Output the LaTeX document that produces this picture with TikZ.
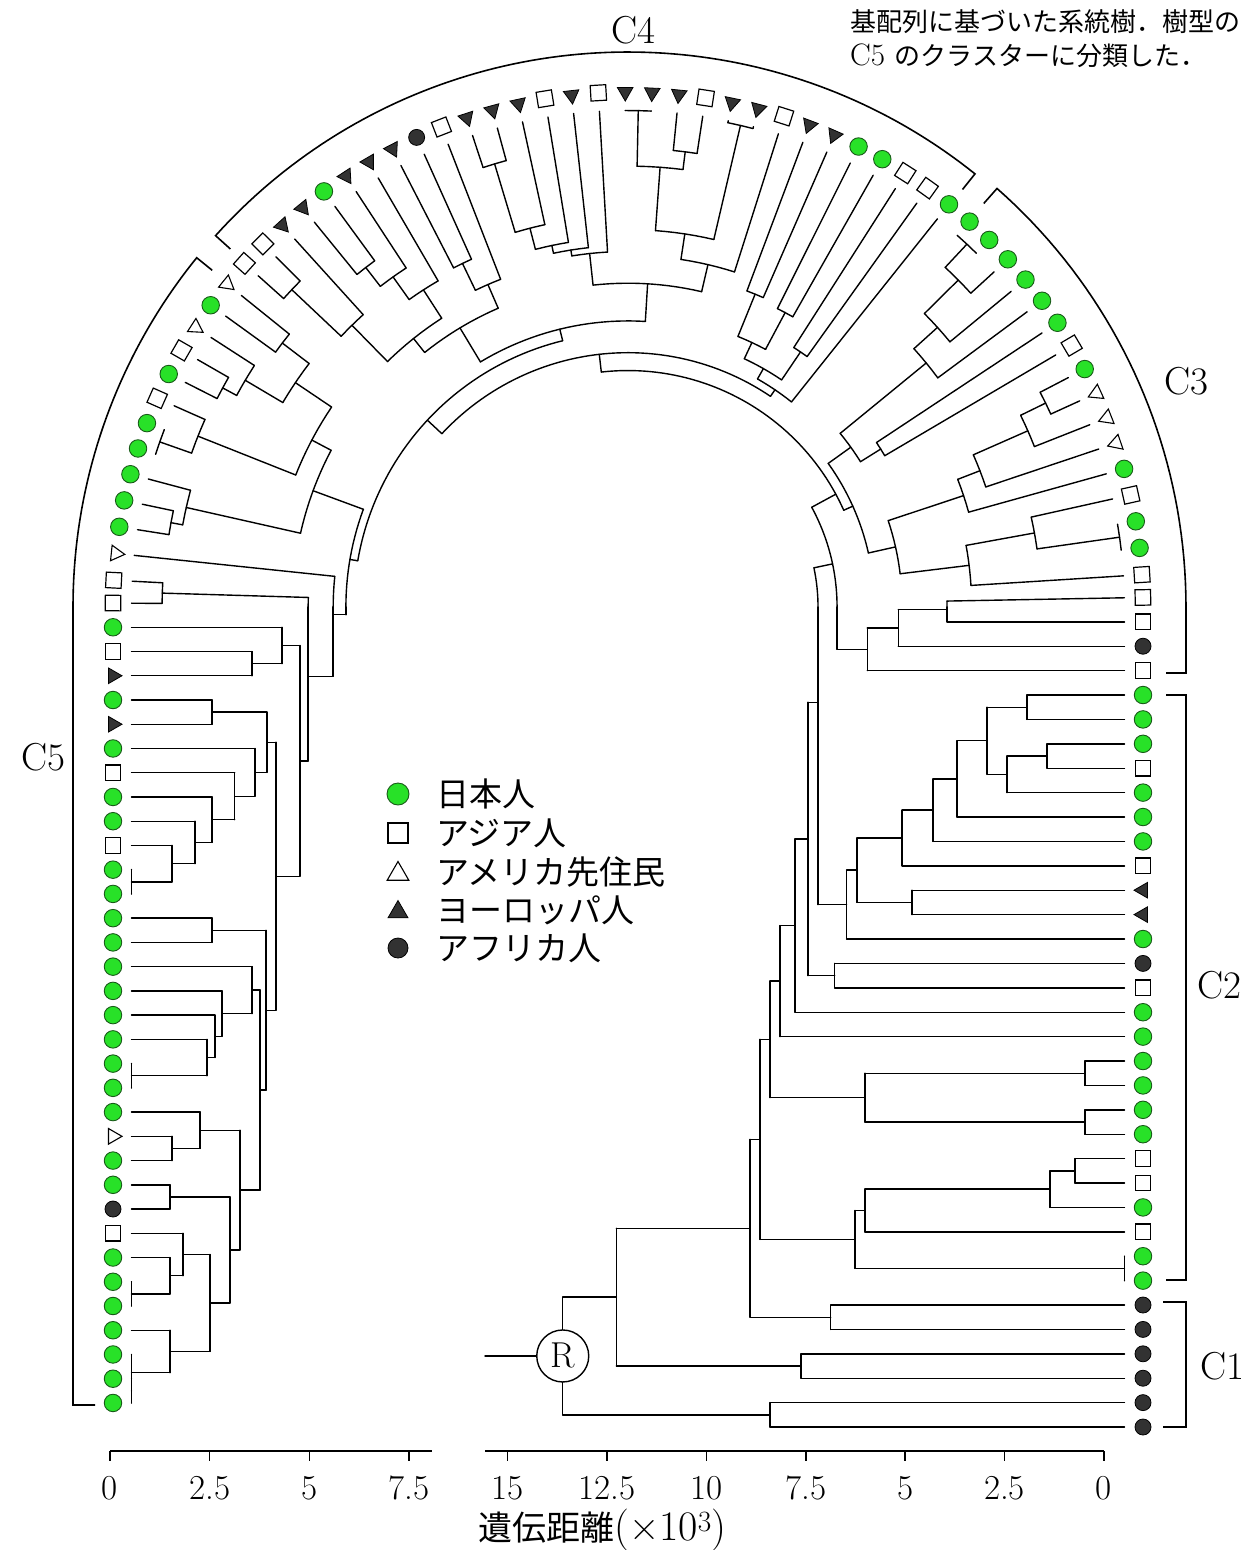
\documentclass[tikz,border=0pt]{standalone}
\usepackage{fontspec}
\newfontfamily\jp{Noto Sans CJK JP}
\usetikzlibrary{shapes.geometric}
\definecolor{jgreen}{RGB}{40,225,40}
\definecolor{jedge}{RGB}{25,90,25}
\definecolor{darkm}{RGB}{50,50,50}

\def\CX{628}\def\CY{607}\def\RZ{496.5}\def\SC{39.7}\def\KK{9.006}

\newcommand\mapto[2]{%
  \pgfmathsetmacro\mapR{\RZ-\SC*(#2)}%
  \pgfmathsetmacro\mapP{#1}%
  \ifdim\mapP pt<0pt
    \pgfmathsetmacro\mapX{\CX+\mapR}%
    \pgfmathsetmacro\mapY{\CY-\mapP*\KK}%
  \else\ifdim\mapP pt>180pt
    \pgfmathsetmacro\mapX{\CX-\mapR}%
    \pgfmathsetmacro\mapY{\CY+(\mapP-180)*\KK}%
  \else
    \pgfmathsetmacro\mapX{\CX+\mapR*cos(\mapP)}%
    \pgfmathsetmacro\mapY{\CY-\mapR*sin(\mapP)}%
  \fi\fi}

\newcommand\radial[3]{%
  \mapto{#1}{#2}\edef\pAx{\mapX}\edef\pAy{\mapY}%
  \mapto{#1}{#3}%
  \draw[tree] (\pAx,\pAy) -- (\mapX,\mapY);}

\newcommand\conn[3]{%
  \pgfmathsetmacro\cLo{min(#1,#2)}%
  \pgfmathsetmacro\cHi{max(#1,#2)}%
  \pgfmathsetmacro\cR{\RZ-\SC*(#3)}%
  \ifdim\cLo pt<0pt
    \pgfmathsetmacro\cT{min(\cHi,0)}%
    \mapto{\cLo}{#3}\edef\pAx{\mapX}\edef\pAy{\mapY}%
    \mapto{\cT}{#3}%
    \draw[tree] (\pAx,\pAy) -- (\mapX,\mapY);
  \fi
  \pgfmathsetmacro\aLo{max(\cLo,0)}%
  \pgfmathsetmacro\aHi{min(\cHi,180)}%
  \ifdim\aHi pt>\aLo pt
    \pgfmathtruncatemacro\cN{2+(\aHi-\aLo)/1.5}%
    \draw[tree] plot[domain=\aLo:\aHi,samples=\cN] ({\CX+\cR*cos(\x)},{\CY-\cR*sin(\x)});
  \fi
  \ifdim\cHi pt>180pt
    \pgfmathsetmacro\cT{max(\cLo,180)}%
    \mapto{\cT}{#3}\edef\pAx{\mapX}\edef\pAy{\mapY}%
    \mapto{\cHi}{#3}%
    \draw[tree] (\pAx,\pAy) -- (\mapX,\mapY);
  \fi}

% tree node: name, child1, child2, distance ; stem at the middle of the children
\newcommand\tn[4]{%
  \edef\tnA{\csname ph@#2\endcsname}%
  \edef\tnB{\csname ph@#3\endcsname}%
  \pgfmathsetmacro\tnM{(\tnA+\tnB)/2}%
  \tnbody{#1}{#2}{#3}{#4}}
% same, with the stem angle given
\newcommand\tns[5]{%
  \edef\tnA{\csname ph@#2\endcsname}%
  \edef\tnB{\csname ph@#3\endcsname}%
  \def\tnM{#5}%
  \tnbody{#1}{#2}{#3}{#4}}
\newcommand\tnbody[4]{%
  \edef\tnDa{\csname dd@#2\endcsname}%
  \edef\tnDb{\csname dd@#3\endcsname}%
  \edef\tnMM{\tnM}%
  \radial{\tnA}{\tnDa}{#4}%
  \radial{\tnB}{\tnDb}{#4}%
  \conn{\tnA}{\tnB}{#4}%
  \expandafter\xdef\csname ph@#1\endcsname{\tnMM}%
  \expandafter\xdef\csname dd@#1\endcsname{#4}%
  \mapto{\tnMM}{#4}%
  \coordinate (#1) at (\mapX,\mapY);}

\newcommand\mkpos[1]{\mapto{#1}{-0.466}\pgfmathsetmacro\mkrot{max(0,min(180,#1))}}
\newcommand\mkrJ[2]{\mkpos{#1}\node[mJ] (#2) at (\mapX,\mapY) {};}
\newcommand\mkrA[2]{\mkpos{#1}\node[mA,rotate=\mkrot] (#2) at (\mapX,\mapY) {};}
\newcommand\mkrF[2]{\mkpos{#1}\node[mF] (#2) at (\mapX,\mapY) {};}
\newcommand\mkrN[2]{\mkpos{#1}\pgfmathsetmacro\mkrot{\mkrot+90}\node[mN,rotate=\mkrot] (#2) at (\mapX,\mapY) {};}
\newcommand\mkrE[2]{\mkpos{#1}\pgfmathsetmacro\mkrot{\mkrot+90}\node[mE,rotate=\mkrot] (#2) at (\mapX,\mapY) {};}

\tikzset{
 tree/.style={line width=1.4pt, line cap=round, line join=round},
 mJ/.style={circle, inner sep=0pt, minimum size=17.5pt, fill=jgreen, draw=jedge, line width=0.9pt},
 mA/.style={rectangle, inner sep=0pt, minimum size=15.5pt, fill=white, draw=black, line width=1.2pt},
 mF/.style={circle, inner sep=0pt, minimum size=16pt, fill=darkm, draw=black, line width=0.8pt},
 mN/.style={regular polygon, regular polygon sides=3, inner sep=0pt, minimum size=18pt, fill=white, draw=black, line width=1.1pt},
 mE/.style={regular polygon, regular polygon sides=3, inner sep=0pt, minimum size=18pt, fill=darkm, draw=black, line width=0.8pt},
 brk/.style={line width=1.6pt, line join=miter},
 lab/.style={font=\fontsize{39}{39}\selectfont, inner sep=0pt},
 axl/.style={font=\fontsize{35}{35}\selectfont, inner sep=0pt},
 leg/.style={font=\jp\fontsize{33}{33}\selectfont, anchor=west, inner sep=0pt},
 axis/.style={line width=1.5pt}
}

\begin{document}
\begin{tikzpicture}[x=1pt,y=-1pt]
\fill[white] (0,0) rectangle (1245,1550);
\useasboundingbox (0,0) rectangle (1245,1550);

% ---------- leaves ----------
\foreach \i/\ty in {1/F,2/F,3/F,4/F,5/F,6/F,7/J,8/J,9/A,10/J,11/A,12/A,13/J,14/J,15/J,16/J,17/J,18/J,19/A,20/F,21/J,22/E,23/E,24/A,25/J,26/J,27/J,28/A,29/J,30/J,31/J,32/A,33/F,34/A,35/A}{%
  \pgfmathsetmacro\lp{-(820-(\i-1)*24.4)/9.006}%
  \expandafter\xdef\csname ph@L\i\endcsname{\lp}%
  \expandafter\xdef\csname dd@L\i\endcsname{0}%
  \csname mkr\ty\endcsname{\lp}{L\i}}
\foreach \i/\ty in {36/A,37/J,38/J,39/A,40/J,41/N,42/N,43/N,44/J,45/A,46/J,47/J,48/J,49/J,50/J,51/J,52/J,53/A,54/A,55/J,56/J,57/E,58/E,59/A,60/E,61/E,62/A,63/E,64/E,65/E,66/A,67/E,68/A,69/E,70/E,71/E,72/A,73/F,74/E,75/E,76/E,77/J,78/E,79/E,80/A,81/A,82/N,83/J,84/N,85/A,86/J,87/A,88/J,89/J,90/J,91/J,92/J,93/N,94/A}{%
  \pgfmathsetmacro\lp{3.6+(\i-36)*2.99}%
  \expandafter\xdef\csname ph@L\i\endcsname{\lp}%
  \expandafter\xdef\csname dd@L\i\endcsname{0}%
  \csname mkr\ty\endcsname{\lp}{L\i}}
\foreach \i/\ty in {95/A,96/J,97/A,98/E,99/J,100/E,101/J,102/A,103/J,104/J,105/A,106/J,107/J,108/J,109/J,110/J,111/J,112/J,113/J,114/J,115/J,116/J,117/N,118/J,119/J,120/F,121/A,122/J,123/J,124/J,125/J,126/J,127/J,128/J}{%
  \pgfmathsetmacro\lp{179.56+(\i-95)*2.6915}%
  \expandafter\xdef\csname ph@L\i\endcsname{\lp}%
  \expandafter\xdef\csname dd@L\i\endcsname{0}%
  \csname mkr\ty\endcsname{\lp}{L\i}}

% ---------- C1 ----------
\tn{p12}{L1}{L2}{8.93}
\tn{p34}{L3}{L4}{8.15}
\tn{p56}{L5}{L6}{7.4}
% ---------- C2 ----------
\tn{b78}{L7}{L8}{0}
\tn{p1112}{L11}{L12}{1.25}
\tn{n10}{L10}{p1112}{1.88}
\tn{n9}{L9}{n10}{6.54}
\tn{n7}{b78}{n9}{6.79}
\tn{p1314}{L13}{L14}{1.0}
\tn{p1516}{L15}{L16}{1.0}
\tn{n13}{p1314}{p1516}{6.54}
\tn{p1920}{L19}{L20}{7.3}
\tn{p3031}{L30}{L31}{2.46}
\tn{p2829}{L28}{L29}{1.95}
\tn{n27}{L27}{p2829}{2.96}
\tn{n28x}{p3031}{n27}{3.46}
\tn{n26}{L26}{n28x}{4.22}
\tn{n25}{L25}{n26}{4.82}
\tn{n24}{L24}{n25}{5.6}
\tn{p2223}{L22}{L23}{5.35}
\tn{n22}{n24}{p2223}{6.74}
\tn{n21}{L21}{n22}{7.0}
% ---------- C3 ----------
\tn{p3435}{L34}{L35}{4.47}
\tn{n33}{L33}{p3435}{5.7}
\tn{n32}{L32}{n33}{6.48}
\tn{b3738}{L37}{L38}{0}
\tn{n39}{L39}{b3738}{2.1}
\tn{n36}{L36}{n39}{3.85}
\tn{p4344}{L43}{L44}{0.8}
\tn{n42}{L42}{p4344}{1.5}
\tn{n41}{L41}{n42}{3.0}
\tn{n40}{L40}{n41}{3.6}
\tn{c3a}{n36}{n40}{5.6}
\tn{b5051}{L50}{L51}{0}
\tn{n49}{L49}{b5051}{0.8}
\tn{n48}{L48}{n49}{2.0}
\tn{n47}{L47}{n48}{2.8}
\tn{p4546}{L45}{L46}{5.0}
\tn{c3b}{p4546}{n47}{5.6}
\tn{c3arc}{c3a}{c3b}{6.3}
% ---------- C4 ----------
\tn{p5758}{L57}{L58}{4.0}
\tn{p5556}{L55}{L56}{4.1}
\tn{n55}{p5556}{p5758}{5.15}
\tn{p5354}{L53}{L54}{4.75}
\tn{n53}{p5354}{n55}{5.6}
\tn{R4}{L52}{n53}{5.9}
\tn{b6465}{L64}{L65}{0}
\tn{p6263}{L62}{L63}{0.95}
\tn{n62}{p6263}{b6465}{1.4}
\tn{b6061}{L60}{L61}{0.05}
\tn{n60}{b6061}{n62}{3.0}
\tn{n59}{L59}{n60}{3.65}
\tn{p7071}{L70}{L71}{0.85}
\tn{n69}{L69}{p7071}{2.65}
\tn{n68}{L68}{n69}{3.2}
\tn{n67}{L67}{n68}{3.4}
\tn{n66}{L66}{n67}{3.55}
\tn{mid4}{n59}{n66}{4.35}
\tn{p7374}{L73}{L74}{2.9}
\tn{n72}{L72}{p7374}{3.65}
\tn{p7778}{L77}{L78}{1.7}
\tn{n76}{L76}{p7778}{2.3}
\tn{n75}{L75}{n76}{3.0}
\tn{p8081}{L80}{L81}{0.86}
\tn{n79}{L79}{p8081}{2.57}
\tn{c4la}{n75}{n79}{3.85}
\tn{c4l}{n72}{c4la}{4.3}
\tn{K1}{mid4}{c4l}{5.3}
% ---------- C5 ----------
\tn{p8283}{L82}{L83}{1.55}
\tn{p8586}{L85}{L86}{0.9}
\tn{n84}{L84}{p8586}{1.3}
\tn{n82}{p8283}{n84}{2.4}
\tn{b8889}{L88}{L89}{0}
\tn{n87}{L87}{b8889}{0.85}
\tn{n82b}{n82}{n87}{3.5}
\tn{p9192}{L91}{L92}{0.8}
\tn{n90}{L90}{p9192}{1.1}
\tn{C5arc}{n82b}{n90}{4.05}
\tn{X3}{L94}{L95}{0.77}
\tn{p99}{L99}{L100}{2.03}
\tn{b106}{L106}{L107}{0}
\tn{M5}{L105}{b106}{1.02}
\tn{M4x}{L104}{M5}{1.6}
\tn{M3}{L103}{M4x}{2.03}
\tn{M2}{L102}{M3}{2.6}
\tn{M1}{L101}{M2}{3.11}
\tn{X8}{p99}{M1}{3.41}
\tn{X6}{L97}{L98}{3.04}
\tn{X5}{L96}{X6}{3.79}
\tn{p108}{L108}{L109}{2.03}
\tn{b114}{L114}{L115}{0}
\tn{P1}{L113}{b114}{1.9}
\tn{P2}{L112}{P1}{2.1}
\tn{P3}{L111}{P2}{2.28}
\tn{P4}{L110}{P3}{3.04}
\tn{p117}{L117}{L118}{1.02}
\tn{Lq1}{L116}{p117}{1.73}
\tn{p119}{L119}{L120}{0.97}
\tn{b123}{L123}{L124}{0}
\tn{Q1}{L122}{b123}{0.97}
\tn{Q2}{L121}{Q1}{1.3}
\tn{b127}{L127}{L128}{0}
\tn{b126}{L126}{b127}{0}
\tn{Q3}{L125}{b126}{0.97}
\tn{Q4}{Q2}{Q3}{1.98}
\tn{Q5}{p119}{Q4}{2.48}
\tn{Q6}{Lq1}{Q5}{2.73}
\tn{G3}{P4}{Q6}{3.24}
\tn{G4}{p108}{G3}{3.39}
\tn{X7}{X8}{G4}{3.64}
\tn{X4}{X5}{X7}{4.24}
\tn{X1}{X3}{X4}{4.45}
\tn{X2}{L93}{X1}{5.08}
\tn{C5}{C5arc}{X2}{5.4}
% ---------- backbone ----------
\tn{Zl}{K1}{C5}{5.6}
\tn{Zt}{R4}{Zl}{6.1}
\tns{Z3}{c3arc}{Zt}{6.55}{28.5}
\tn{C3R}{n32}{Z3}{7.24}
\tn{T1}{n21}{C3R}{7.72}
\tn{U2}{T1}{p1920}{7.97}
\tn{U3}{U2}{L18}{8.3}
\tn{U4}{U3}{L17}{8.68}
\tn{U5}{U4}{n13}{8.93}
\tn{U6}{U5}{n7}{9.18}
\tn{B}{U6}{p56}{9.43}
\tn{A}{B}{p34}{12.8}
\tn{R}{A}{p12}{14.15}

% root circle
\edef\rootphi{\csname ph@R\endcsname}
\mapto{\rootphi}{14.15}
\node[circle, draw, fill=white, line width=1.4pt, minimum size=52pt, inner sep=0pt, font=\fontsize{36}{36}\selectfont] (Rc) at (\mapX,\mapY) {R};
\coordinate (Rin) at (485,\mapY);
\draw[tree] (Rin) -- (Rc.west);

% ---------- brackets ----------
\draw[brk] (1163,1302) -- (1186,1302) -- (1186,1427) -- (1163,1427);
\draw[brk] (1166,695) -- (1186,695) -- (1186,1280) -- (1166,1280);
\draw[brk] (1166,673) -- (1186,673) -- (1186,607) -- plot[domain=0:48.6,samples=40] ({628+558*cos(\x)},{607-558*sin(\x)}) -- ({628+538*cos(48.6)},{607-538*sin(48.6)});
\draw[brk] ({628+535*cos(51.3)},{607-535*sin(51.3)}) -- plot[domain=51.3:138,samples=90] ({628+555*cos(\x)},{607-555*sin(\x)}) -- ({628+535*cos(138)},{607-535*sin(138)});
\draw[brk] ({628+535*cos(141)},{607-535*sin(141)}) -- plot[domain=141:180,samples=40] ({628+555*cos(\x)},{607-555*sin(\x)}) -- (73,1405) -- (95,1405);

\node[lab] (lC4) at (633,30) {C4};
\node[lab] (lC3) at (1186,381) {C3};
\node[lab] (lC5) at (43,757) {C5};
\node[lab] (lC2) at (1219,985) {C2};
\node[lab] (lC1) at (1222,1366) {C1};

% ---------- legend ----------
\node[mJ, minimum size=22pt] (lgJ) at (398,794) {};
\node[mA, minimum size=20pt] (lgA) at (398,833) {};
\node[mN, minimum size=25pt] (lgN) at (398,874) {};
\node[mE, minimum size=23pt] (lgE) at (398,912) {};
\node[mF, minimum size=20pt] (lgF) at (398,948) {};
\node[leg] (tJ) at (436,794) {日本人};
\node[leg] (tA) at (436,833) {アジア人};
\node[leg] (tN) at (436,872) {アメリカ先住民};
\node[leg] (tE) at (436,910) {ヨーロッパ人};
\node[leg] (tF) at (436,948) {アフリカ人};

% ---------- axes ----------
\draw[axis] (110,1451) -- (432,1451);
\foreach \k/\lbl in {0/0,1/2.5,2/5,3/7.5}{%
  \draw[axis] (110+99.7*\k,1451) -- (110+99.7*\k,1461);
  \node[axl] (la\k) at (110+99.7*\k,1488) {\lbl};}
\draw[axis] (485,1451) -- (1104,1451);
\foreach \k/\lbl in {0/0,1/2.5,2/5,3/7.5,4/10,5/12.5,6/15}{%
  \draw[axis] (1104-99.4*\k,1451) -- (1104-99.4*\k,1461);
  \node[axl] (ra\k) at (1104-99.4*\k,1488) {\lbl};}
\node[anchor=west, inner sep=0pt, font=\fontsize{42}{42}\selectfont] (axt) at (478,1530) {{\jp\fontsize{34}{34}\selectfont 遺伝距離}(×10\textsuperscript{3})};

% ---------- caption ----------
\node[anchor=west, inner sep=0pt, font=\jp\fontsize{26}{26}\selectfont] (cap2) at (850,22) {基配列に基づいた系統樹．樹型の};
\node[anchor=west, inner sep=0pt, font=\fontsize{31}{31}\selectfont] (cap3) at (850,56) {C5 {\jp\fontsize{26}{26}\selectfont のクラスターに分類した．}};
\end{tikzpicture}
\end{document}
